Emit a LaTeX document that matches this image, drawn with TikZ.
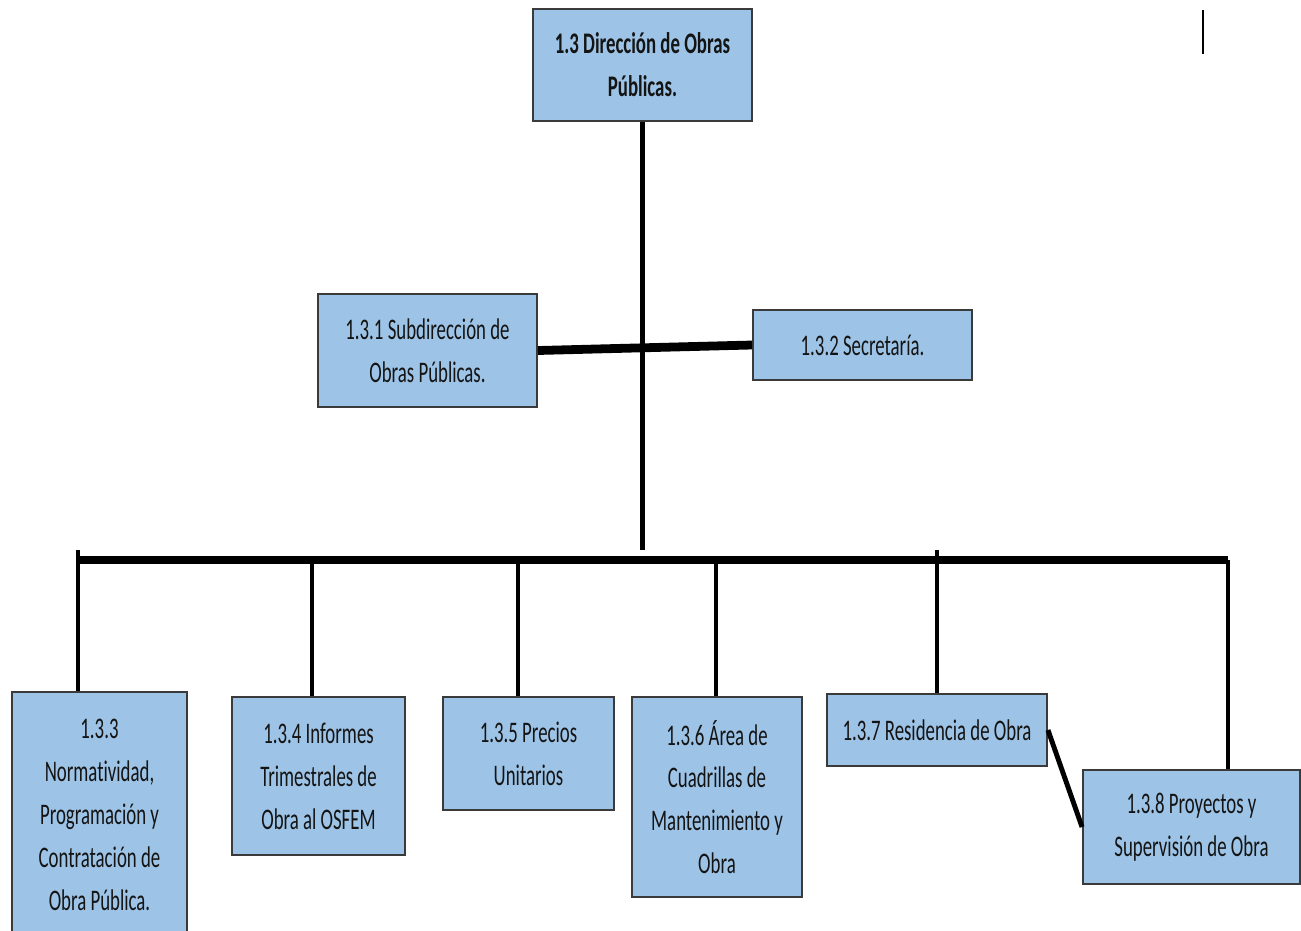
\documentclass[tikz,border=0pt]{standalone}
\usepackage{fontspec}
\setmainfont{Carlito}[FakeStretch=0.63, Ligatures=NoCommon]
\usepackage{tikz}
\usetikzlibrary{positioning,calc}
\definecolor{boxblue}{HTML}{9DC3E6}
\definecolor{boxline}{HTML}{3A3A3A}
\definecolor{inktext}{HTML}{141414}

\begin{document}
\begin{tikzpicture}[
  x=0.02cm, y=-0.02cm,
  unit/.style={rectangle, draw=boxline, fill=boxblue, line width=1.1pt, align=center, inner sep=2pt,
    font=\fontsize{17}{24.4}\selectfont\color{inktext}},
  headunit/.style={unit, font=\fontsize{17}{24.4}\selectfont\bfseries\color{inktext}},
  link/.style={black, line width=2.8pt},
  heavy/.style={black, line width=5pt},
]
\useasboundingbox (0,0) rectangle (1301,930);

\node[headunit, minimum width=4.38cm, minimum height=2.24cm] (dir) at (642.5,65) {1.3 Dirección de Obras\\Públicas.};
\node[unit, minimum width=4.38cm, minimum height=2.26cm] (sub) at (427.5,350.5) {1.3.1 Subdirección de\\Obras Públicas.};
\node[unit, minimum width=4.38cm, minimum height=1.40cm] (sec) at (862.5,345) {1.3.2 Secretaría.};

\node[unit, minimum width=3.50cm, minimum height=4.92cm] (n133) at (99.5,815) {1.3.3\\Normatividad,\\Programación y\\Contratación de\\Obra Pública.};
\node[unit, minimum width=3.46cm, minimum height=3.16cm] (n134) at (318.5,776) {1.3.4 Informes\\Trimestrales de\\Obra al OSFEM};
\node[unit, minimum width=3.42cm, minimum height=2.26cm] (n135) at (528.5,753.5) {1.3.5 Precios\\Unitarios};
\node[unit, minimum width=3.40cm, minimum height=4.00cm] (n136) at (717,797) {1.3.6 Área de\\Cuadrillas de\\Mantenimiento y\\Obra};
\node[unit, minimum width=4.40cm, minimum height=1.44cm] (n137) at (937,730) {1.3.7 Residencia de Obra};
\node[unit, minimum width=4.34cm, minimum height=2.28cm] (n138) at (1191.5,827) {1.3.8 Proyectos y\\Supervisión de Obra};

\coordinate (bus) at (642,560);
\coordinate (busTop) at (642,550);
\coordinate (busL) at (78,560);
\coordinate (busR) at (1228,560);

\draw[link] (dir.south) -- (dir.south |- busTop);
\draw[heavy] (sub.east) -- (sec.west);
\draw[heavy] (busL) -- (busR);
\draw[link] (busL |- busTop) -- (busL |- n133.north);
\foreach \n/\px in {n134/312,n135/518,n136/716} {
  \coordinate (d\n) at (\px,0);
  \draw[link] (d\n |- bus) -- (d\n |- \n.north);
}
\draw[link] (n137.north |- busTop) -- (n137.north);
\draw[link] (busR) -- (busR |- n138.north);
\draw[link] (n137.east) -- (n138.west);

\draw[black, line width=1.5pt] (1203,10) -- (1203,54);
\end{tikzpicture}
\end{document}
